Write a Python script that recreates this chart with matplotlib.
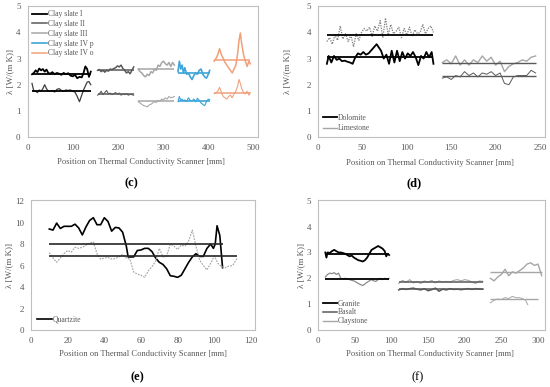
import numpy as np
import matplotlib
matplotlib.use("Agg")
import matplotlib.pyplot as plt

plt.rcParams['font.family'] = ['Liberation Serif', 'DejaVu Serif']

# ---------------- (c) clay slates ----------------
slate1_x = [10, 14, 18, 22, 26, 30, 34, 38, 42, 46, 50, 55, 60, 65, 70, 75, 80, 85, 90, 95,
            100, 105, 110, 115, 120, 124, 128, 132, 136, 140]
slate1_hi = [2.40, 2.45, 2.55, 2.48, 2.62, 2.55, 2.60, 2.50, 2.58, 2.45, 2.42, 2.48, 2.40, 2.45, 2.42,
             2.38, 2.45, 2.40, 2.44, 2.35, 2.32, 2.38, 2.25, 2.30, 2.28, 2.45, 2.70, 2.60, 2.30, 2.50]
slate1_lo = [2.05, 1.75, 1.75, 1.70, 1.80, 1.75, 1.85, 2.00, 1.85, 1.75, 1.75, 1.78, 1.72, 1.82, 1.85,
             1.78, 1.75, 1.80, 1.78, 1.80, 1.75, 1.72, 1.55, 1.35, 1.60, 1.80, 1.95, 2.10, 2.12, 2.00]
slate1_mean = [2.42, 1.77]

slate2_x = [155, 159, 163, 167, 171, 175, 179, 183, 187, 191, 195, 199, 203, 207, 211, 215, 219, 223,
            227, 231, 235]
slate2_hi = [2.55, 2.58, 2.50, 2.55, 2.48, 2.55, 2.52, 2.60, 2.58, 2.62, 2.65, 2.72, 2.68, 2.75, 2.62,
             2.55, 2.45, 2.50, 2.42, 2.55, 2.68]
slate2_lo = [1.60, 1.65, 1.75, 1.62, 1.70, 1.78, 1.65, 1.68, 1.62, 1.66, 1.70, 1.64, 1.68, 1.60, 1.65,
             1.62, 1.66, 1.60, 1.63, 1.62, 1.60]
slate2_mean = [2.56, 1.64]

slate3_x = [245, 249, 253, 257, 261, 265, 269, 273, 277, 281, 285, 289, 293, 297, 301, 305, 309, 313,
            317, 321, 325]
slate3_hi = [2.60, 2.50, 2.45, 2.35, 2.30, 2.40, 2.35, 2.50, 2.45, 2.60, 2.55, 2.75, 2.70, 2.85, 2.90,
             2.80, 2.75, 2.85, 2.70, 2.85, 2.75]
slate3_lo = [1.35, 1.30, 1.25, 1.20, 1.18, 1.15, 1.22, 1.25, 1.30, 1.35, 1.32, 1.40, 1.38, 1.45, 1.42,
             1.50, 1.45, 1.55, 1.50, 1.52, 1.55]
slate3_mean = [2.60, 1.38]

slate4p_x = [333, 336, 339, 342, 345, 348, 352, 356, 360, 364, 368, 372, 376, 380, 384, 388, 392, 396,
             400, 403]
slate4p_hi = [2.50, 2.90, 2.60, 2.75, 2.45, 2.65, 2.40, 2.45, 2.30, 2.20, 2.35, 2.45, 2.40, 2.55, 2.60,
              2.40, 2.30, 2.25, 2.40, 2.55]
slate4p_lo = [1.35, 1.55, 1.40, 1.45, 1.38, 1.42, 1.35, 1.50, 1.40, 1.38, 1.45, 1.35, 1.48, 1.40, 1.30,
              1.25, 1.20, 1.35, 1.45, 1.42]
slate4p_mean = [2.45, 1.39]

slate4o_x = [413, 417, 421, 425, 429, 433, 437, 441, 445, 449, 453, 457, 461, 465, 468, 471, 474, 478,
             482, 486, 490, 493]
slate4o_hi = [2.90, 3.00, 3.15, 3.38, 3.15, 3.00, 2.85, 2.75, 2.65, 2.55, 2.45, 2.60, 2.75, 3.20, 3.70,
              3.98, 3.55, 3.15, 2.90, 2.70, 2.90, 2.80]
slate4o_lo = [1.65, 1.70, 1.75, 1.90, 1.70, 1.55, 1.50, 1.45, 1.55, 1.60, 1.50, 1.65, 1.75, 1.95, 2.20,
              2.05, 1.85, 1.70, 1.65, 1.75, 1.60, 1.70]
slate4o_mean = [2.93, 1.68]

# ---------------- (d) dolomite / limestone ----------------
dolo_lo_x = [10, 12, 15, 18, 21, 24, 27, 30, 33, 36, 39, 42, 45, 48, 51, 54, 57, 66, 71, 74, 77, 80,
             83, 86, 89, 92, 95, 98, 101, 104, 107, 110, 113, 116, 119, 122, 125, 128, 130]
dolo_lo = [2.80, 3.10, 2.85, 3.10, 2.95, 3.00, 2.90, 2.92, 2.88, 2.85, 2.80, 3.05, 3.20, 3.15, 3.25,
           3.15, 3.20, 3.55, 3.30, 3.00, 3.15, 2.80, 3.30, 2.85, 3.30, 2.90, 3.25, 3.00, 3.20, 3.10,
           3.25, 3.05, 2.75, 3.10, 3.00, 3.25, 3.05, 3.25, 2.80]
dolo_hi_x = [10, 13, 16, 19, 22, 25, 28, 31, 34, 37, 40, 43, 46, 49, 52, 55, 58, 61, 64, 67, 70, 73,
             76, 79, 82, 85, 88, 91, 94, 97, 100, 103, 106, 109, 112, 115, 118, 121, 124, 127, 130]
dolo_hi = [3.65, 3.80, 3.55, 3.90, 3.70, 4.25, 3.75, 3.95, 3.65, 3.90, 3.45, 3.95, 3.70, 4.00, 4.15,
           4.05, 4.20, 3.85, 4.25, 4.05, 4.45, 3.80, 4.55, 3.90, 4.30, 3.95, 4.05, 4.20, 3.80, 4.15,
           3.90, 4.20, 3.85, 4.10, 3.95, 4.00, 4.30, 3.95, 4.15, 4.25, 4.00]
dolo_mean = [3.90, 3.07]

lime_x = [140, 145, 150, 155, 160, 165, 170, 175, 180, 185, 190, 195, 200, 205, 210, 215, 220, 225,
          230, 235, 240, 245]
lime_hi = [2.85, 2.95, 2.80, 3.10, 2.75, 2.95, 2.75, 2.95, 2.85, 3.10, 2.90, 3.05, 2.75, 2.90, 2.50,
           2.70, 2.80, 2.85, 2.95, 2.90, 3.05, 3.10]
lime_lo = [2.25, 2.30, 2.20, 2.35, 2.30, 2.50, 2.35, 2.45, 2.30, 2.45, 2.40, 2.50, 2.35, 2.45, 2.05,
           2.00, 2.30, 2.35, 2.35, 2.35, 2.55, 2.45]
lime_mean = [2.83, 2.34]

# ---------------- (e) quartzite ----------------
quartz_hi_x = [10, 12, 14, 16, 18, 20, 22, 24, 26, 28, 30, 32, 34, 36, 38, 40, 42, 44, 46, 48, 50, 52,
               53, 56, 58, 60, 62, 64, 66, 68, 70, 72, 74, 76, 78, 80, 82, 84, 86, 88, 90, 92, 94, 96,
               98, 99.5, 100.5, 101.5, 103, 104.5]
quartz_hi = [9.40, 9.30, 9.95, 9.45, 9.65, 9.65, 9.65, 9.85, 9.50, 8.85, 9.60, 10.20, 10.45, 9.80,
             9.80, 10.45, 10.10, 9.20, 9.55, 9.50, 9.10, 7.80, 6.80, 6.80, 7.40, 7.45, 7.60, 7.60,
             7.30, 6.70, 6.30, 6.10, 5.70, 5.05, 5.00, 4.90, 5.10, 5.70, 6.30, 6.80, 7.10, 6.85, 6.85,
             7.60, 8.00, 7.60, 8.00, 9.70, 8.80, 5.80]
quartz_lo_x = [10, 12, 14, 16, 18, 20, 22, 24, 26, 28, 30, 32, 34, 36, 38, 40, 42, 44, 46, 48, 50, 52,
               54, 56, 58, 60, 62, 64, 66, 68, 70, 72, 74, 76, 78, 80, 82, 84, 86, 88, 90, 92, 94, 96,
               98, 100, 102, 104, 106, 108, 110, 112.5]
quartz_lo = [7.20, 6.70, 6.30, 6.70, 7.10, 7.40, 7.25, 7.70, 7.60, 7.70, 7.90, 8.10, 8.20, 7.10, 6.60,
             6.70, 6.75, 6.60, 6.65, 6.80, 7.05, 6.70, 6.60, 5.40, 5.20, 5.10, 4.90, 5.50, 5.90, 6.40,
             7.60, 6.80, 6.90, 8.00, 7.80, 7.50, 7.90, 7.80, 8.30, 9.30, 7.80, 6.50, 6.00, 5.60, 6.20,
             6.90, 6.20, 5.90, 5.80, 5.95, 6.00, 6.70]
quartz_mean = [8.05, 6.85]

# ---------------- (f) granite / basalt / claystone ----------------
granite_x = [10, 11.5, 13, 16, 19, 22, 25, 28, 31, 34, 37, 40, 43, 46, 49, 52, 55, 58, 61, 64, 67, 70,
             73, 76, 79, 82, 85, 88, 91, 93, 95, 97]
granite_hi = [3.00, 2.80, 3.00, 2.98, 3.05, 3.10, 3.05, 3.00, 3.00, 2.98, 2.95, 2.90, 2.85, 2.88, 2.80,
              2.75, 2.70, 2.68, 2.65, 2.70, 2.80, 2.95, 3.10, 3.15, 3.20, 3.25, 3.20, 3.15, 3.05, 2.85,
              2.95, 2.90]
granite_lo = [2.05, 2.10, 2.15, 2.20, 2.18, 2.22, 2.15, 2.20, 2.00, 1.98, 2.00, 1.98, 1.95, 1.92, 1.90,
              1.85, 1.80, 1.76, 1.72, 1.78, 1.85, 1.90, 1.95, 1.90, 1.88, 1.95, 2.00, 1.95, 2.00, 1.98,
              1.95, 2.00]
granite_mean = [2.95, 1.99]

basalt_x = [110, 115, 120, 125, 130, 135, 140, 145, 150, 155, 160, 165, 170, 175, 180, 185, 190, 195,
            200, 205, 210, 215, 220, 225]
basalt_hi = [1.80, 1.92, 1.85, 1.95, 1.82, 1.88, 1.80, 1.90, 1.85, 1.92, 1.82, 1.90, 1.85, 1.88, 1.85,
             1.92, 1.95, 1.90, 1.95, 1.92, 1.85, 1.80, 1.90, 1.88]
basalt_lo = [1.55, 1.60, 1.57, 1.60, 1.62, 1.58, 1.55, 1.60, 1.52, 1.56, 1.62, 1.50, 1.58, 1.55, 1.60,
             1.57, 1.58, 1.56, 1.58, 1.60, 1.57, 1.60, 1.58, 1.58]
basalt_mean = [1.84, 1.58]

clay_hi_x = [235, 240, 245, 250, 255, 260, 265, 270, 275, 280, 285, 290, 295, 300, 305]
clay_hi = [2.00, 1.90, 2.05, 2.15, 2.35, 2.10, 2.25, 2.20, 2.30, 2.40, 2.55, 2.60, 2.50, 2.55, 2.10]
clay_lo_x = [235, 240, 245, 250, 255, 260, 265, 270, 275, 280, 283, 286]
clay_lo = [1.05, 1.15, 1.20, 1.18, 1.25, 1.22, 1.30, 1.25, 1.25, 1.20, 1.15, 0.98]
clay_mean = [2.25, 1.20]

xlabel = "Position on Thermal Conductivity Scanner [mm]"
ylabel = "λ [W/(m K)]"

BLACK = "black"
DARK = "#595959"
LIGHT = "#A6A6A6"
BLUE = "#3FA5D8"
ORANGE = "#F0A07A"
TXT = "#595959"


def material(ax, x_hi, y_hi, x_lo, y_lo, means, color, lw, label=None,
             lo_color=None, lo_ls='-', mean_color=None, lo_x_end=None):
    lo_color = lo_color or color
    mean_color = mean_color or color
    ax.plot(x_hi, y_hi, color=color, lw=lw, label=label)
    ax.plot(x_lo, y_lo, color=lo_color, lw=lw * 0.7, ls=lo_ls)
    ax.hlines(means[0], x_hi[0], x_hi[-1], color=mean_color, lw=lw)
    end = lo_x_end if lo_x_end is not None else x_lo[-1]
    ax.hlines(means[1], x_lo[0], end, color=mean_color, lw=lw)


def style(ax, xmax, xticks, ymax, yticks):
    ax.set_xlim(0, xmax)
    ax.set_ylim(0, ymax)
    ax.set_xticks(xticks)
    ax.set_yticks(yticks)
    ax.tick_params(length=0, labelsize=6.5, colors=TXT, pad=5)
    for s in ax.spines.values():
        s.set_color("#BFBFBF")
        s.set_linewidth(0.8)


def legend(ax, loc, anchor, spacing, pad):
    ax.legend(loc=loc, bbox_to_anchor=anchor, frameon=False, fontsize=5.5,
              handlelength=1.9, handletextpad=0.15, labelspacing=spacing,
              borderaxespad=pad, labelcolor=TXT)


fig = plt.figure(figsize=(5.5, 3.87), dpi=100)
W, H = 550.0, 387.0


def axes_px(x0, y0, x1, y1):
    return fig.add_axes([x0 / W, 1 - y1 / H, (x1 - x0) / W, (y1 - y0) / H])


ax_c = axes_px(27.5, 5.5, 258, 137)
ax_d = axes_px(318, 5.5, 545, 137)
ax_e = axes_px(31, 200, 255, 330)
ax_f = axes_px(318, 200, 545, 330)

# (c)
material(ax_c, slate1_x, slate1_hi, slate1_x, slate1_lo, slate1_mean, BLACK, 1.3,
         "Clay slate I", lo_color="#404040")
material(ax_c, slate2_x, slate2_hi, slate2_x, slate2_lo, slate2_mean, DARK, 1.1, "Clay slate II")
material(ax_c, slate3_x, slate3_hi, slate3_x, slate3_lo, slate3_mean, LIGHT, 1.1, "Clay slate III")
material(ax_c, slate4p_x, slate4p_hi, slate4p_x, slate4p_lo, slate4p_mean, BLUE, 1.2, "Clay slate IV p")
material(ax_c, slate4o_x, slate4o_hi, slate4o_x, slate4o_lo, slate4o_mean, ORANGE, 1.1, "Clay slate IV o")
style(ax_c, 510, [0, 100, 200, 300, 400, 500], 5.03, [0, 1, 2, 3, 4, 5])
legend(ax_c, "upper left", (0.0, 1.0), 0.22, 0.25)

# (d)
material(ax_d, dolo_lo_x, dolo_lo, dolo_hi_x, dolo_hi, [dolo_mean[1], dolo_mean[0]], BLACK, 1.3,
         "Dolomite", lo_color="#7F7F7F", lo_ls=(0, (1, 1)))
material(ax_d, lime_x, lime_hi, lime_x, lime_lo, lime_mean, LIGHT, 1.0, "Limestone",
         lo_color=DARK, mean_color=DARK)
style(ax_d, 255.6, [0, 50, 100, 150, 200, 250], 5.03, [0, 1, 2, 3, 4, 5])
legend(ax_d, "lower left", (0.0, 0.0), 0.35, 0.2)

# (e)
material(ax_e, quartz_hi_x, quartz_hi, quartz_lo_x, quartz_lo, quartz_mean,
         BLACK, 1.2, "Quartzite", lo_color=LIGHT, lo_ls=(0, (1.5, 1)), mean_color="#262626")
style(ax_e, 122.2, [0, 20, 40, 60, 80, 100, 120], 12.1, [0, 2, 4, 6, 8, 10, 12])
legend(ax_e, "lower left", (0.0, 0.0), 0.3, 0.45)

# (f)
material(ax_f, granite_x, granite_hi, granite_x, granite_lo, granite_mean, BLACK, 1.3, "Granite",
         lo_color="#8C8C8C", mean_color=BLACK)
material(ax_f, basalt_x, basalt_lo, basalt_x, basalt_hi, [basalt_mean[1], basalt_mean[0]], DARK, 1.1,
         "Basalt", lo_color=LIGHT, mean_color=DARK)
material(ax_f, clay_hi_x, clay_hi, clay_lo_x, clay_lo, clay_mean, LIGHT, 1.0, "Claystone",
         lo_x_end=300)
style(ax_f, 309.5, [0, 50, 100, 150, 200, 250, 300], 5.03, [0, 1, 2, 3, 4, 5])
legend(ax_f, "lower left", (0.0, 0.0), 0.12, 0.2)

# axis titles and panel letters
for (cx, cy, lx, ly, tag, tx, ty, bold) in [
        (141, 162, 10, 72, "(c)", 131, 183, True),
        (430, 163, 287, 72, "(d)", 414, 183, True),
        (143, 354, 9.5, 265, "(e)", 137, 377, True),
        (430, 354, 301, 265, "(f)", 418, 377, False)]:
    fig.text(cx / W, 1 - cy / H, xlabel, ha="center", va="center", fontsize=6.1, color=TXT)
    fig.text(lx / W, 1 - ly / H, ylabel, ha="center", va="center", rotation=90, fontsize=6.5,
             color=TXT)
    fig.text(tx / W, 1 - ty / H, tag, ha="center", va="center", fontsize=9,
             fontweight="bold" if bold else "normal", color="black")

fig.savefig("out.png", dpi=100)
